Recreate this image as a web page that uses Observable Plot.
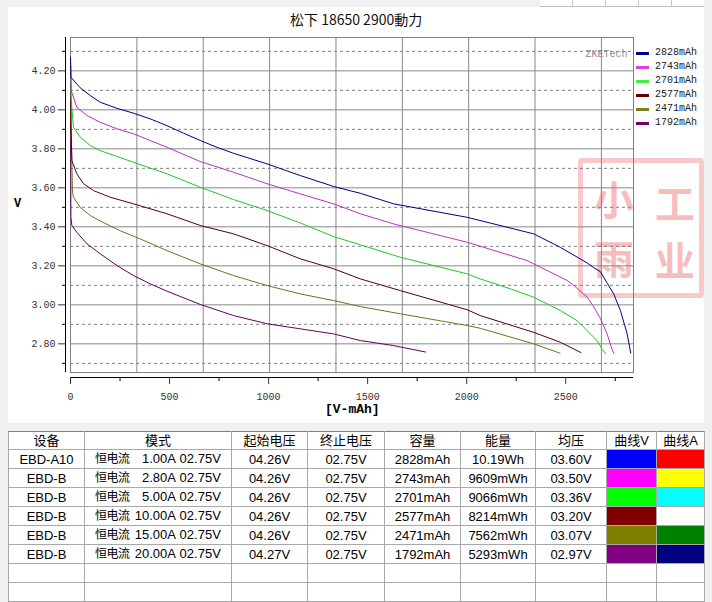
<!DOCTYPE html>
<html><head><meta charset="utf-8">
<script src="https://cdn.jsdelivr.net/npm/d3@7"></script>
<script src="https://cdn.jsdelivr.net/npm/@observablehq/plot@0.6"></script>
<style>
html,body{margin:0;padding:0;}
body{background:#f0f0f0;width:712px;height:602px;overflow:hidden;position:relative;font-family:"Liberation Sans","Noto Sans CJK SC",sans-serif;}
#strip{position:absolute;left:540px;top:0;width:164px;height:6px;background:repeating-linear-gradient(to right,#fff 0 32px,#c8c8c8 32px 33px);border-bottom:1px solid #c0c0c0;}
#panel{position:absolute;left:8px;top:7px;width:696px;height:416px;background:#fff;}
#seal{position:absolute;left:578px;top:158px;width:116px;height:130px;border:5px solid rgba(236,90,90,0.33);border-radius:4px;}
#seal span{position:absolute;display:block;width:44px;height:35px;text-align:center;font-family:"Noto Sans CJK SC";font-weight:bold;font-size:35px;line-height:35px;color:rgba(236,80,80,0.38);transform:scale(1.15);}
#chart{position:absolute;left:0;top:0;}
#title{position:absolute;left:290px;top:10px;font-family:"Noto Sans CJK SC";font-size:14px;line-height:18px;color:#111;white-space:pre;}
#vlab{position:absolute;left:14px;top:197px;font-family:"Liberation Mono";font-weight:bold;font-size:12px;color:#000;}
#xlab{position:absolute;left:325px;top:402px;font-family:"Liberation Mono";font-weight:bold;font-size:13px;color:#000;white-space:pre;}
#legend{position:absolute;left:636px;top:46px;}
.li{position:absolute;left:0;height:14px;width:70px;}
.li i{position:absolute;left:0;top:6px;width:13px;height:3px;}
.li b{position:absolute;left:19px;top:0;font-family:"Liberation Mono";font-weight:normal;font-size:10px;line-height:14px;color:#222;}
#tbl{position:absolute;left:8px;top:431px;width:696px;border-collapse:collapse;table-layout:fixed;font-size:13px;color:#000;background:#fff;}
#tbl th,#tbl td{border:1px solid #a8a8a8;padding:0;text-align:center;font-weight:normal;white-space:pre;overflow:hidden;line-height:17px;}
#tbl thead tr{height:18px;}
#tbl tbody tr{height:19px;}
#tbl thead th{border-top:1px solid #808080;}
#tbl td.mode{text-align:left;padding-left:10px;}
#tbl td.mode span.zh{display:inline-block;width:34px;font-size:12px;letter-spacing:-0.5px;}
#tbl td.mode span.cur{display:inline-block;width:47px;text-align:right;}
</style></head>
<body>
<div id="strip"></div>
<div id="panel"></div>
<div id="seal"><span style="left:9px;top:17px">小</span><span style="left:70px;top:21px">工</span><span style="left:9px;top:76px">雨</span><span style="left:70px;top:78px">业</span></div>
<div id="chart"></div>
<div id="title">松下 18650 2900動力</div>
<div id="vlab">V</div>
<div id="xlab">[V-mAh]</div>
<div id="legend"></div>
<table id="tbl"></table>
<script>
// ---- chart data ----
const seriesNames = ["2828mAh","2743mAh","2701mAh","2577mAh","2471mAh","1792mAh"];
const cap1  = [0, 2, 49, 100, 150, 234, 318, 402, 487, 571, 655, 739, 823, 992, 1160, 1328, 1463, 1631, 2002, 2338, 2473, 2574, 2608, 2642, 2675, 2710, 2742, 2776, 2810, 2828];
const volt1 = [4.27, 4.167, 4.113, 4.073, 4.039, 4.008, 3.983, 3.954, 3.919, 3.880, 3.843, 3.808, 3.777, 3.723, 3.663, 3.607, 3.572, 3.518, 3.449, 3.364, 3.295, 3.235, 3.215, 3.19, 3.17, 3.11, 3.056, 2.971, 2.851, 2.752];
const cap2  = [0, 3, 32, 83, 150, 234, 318, 402, 487, 655, 823, 992, 1160, 1328, 1463, 1631, 2002, 2305, 2406, 2507, 2540, 2608, 2641, 2675, 2709, 2734, 2743];
const volt2 = [4.26, 4.10, 4.013, 3.971, 3.936, 3.903, 3.877, 3.843, 3.808, 3.735, 3.680, 3.621, 3.569, 3.518, 3.467, 3.415, 3.321, 3.227, 3.176, 3.125, 3.10, 3.04, 2.99, 2.93, 2.851, 2.77, 2.75];
const cap3  = [0, 2, 15, 49, 100, 150, 234, 318, 487, 655, 823, 992, 1160, 1328, 1463, 1665, 2002, 2068, 2221, 2338, 2423, 2473, 2557, 2574, 2641, 2658, 2685, 2701];
const volt3 = [4.26, 4.07, 3.911, 3.860, 3.817, 3.791, 3.761, 3.731, 3.672, 3.603, 3.540, 3.484, 3.42, 3.35, 3.308, 3.244, 3.159, 3.133, 3.082, 3.039, 2.996, 2.971, 2.919, 2.903, 2.834, 2.817, 2.77, 2.75];
const cap4  = [0, 2, 7, 32, 66, 116, 200, 318, 487, 655, 823, 992, 1160, 1328, 1463, 1665, 2002, 2068, 2338, 2473, 2577];
const volt4 = [4.26, 3.93, 3.74, 3.672, 3.621, 3.586, 3.552, 3.518, 3.467, 3.407, 3.364, 3.304, 3.236, 3.185, 3.133, 3.073, 2.975, 2.945, 2.859, 2.808, 2.755];
const cap5  = [0, 2, 10, 15, 49, 100, 150, 251, 352, 487, 655, 823, 992, 1160, 1328, 1463, 1665, 2002, 2068, 2338, 2471];
const volt5 = [4.26, 3.96, 3.578, 3.552, 3.50, 3.458, 3.43, 3.38, 3.338, 3.278, 3.210, 3.150, 3.099, 3.056, 3.022, 2.991, 2.954, 2.894, 2.88, 2.80, 2.752];
const cap6  = [0, 2, 7, 32, 83, 150, 234, 318, 402, 487, 655, 823, 992, 1160, 1328, 1463, 1631, 1792];
const volt6 = [4.27, 3.45, 3.407, 3.372, 3.313, 3.262, 3.202, 3.150, 3.108, 3.070, 3.002, 2.945, 2.903, 2.877, 2.851, 2.817, 2.791, 2.758];

// axis ticks
const yMajor = [2.8, 3.0, 3.2, 3.4, 3.6, 3.8, 4.0, 4.2];
const yMinor = [2.7, 2.9, 3.1, 3.3, 3.5, 3.7, 3.9, 4.1, 4.3];
const xMajor = [0, 500, 1000, 1500, 2000, 2500];
const xMinor = [250, 750, 1250, 1750, 2250, 2750];
const xGrid  = [335, 670, 1005, 1340, 1675, 2010, 2345, 2680];
const xDomain = [0, 2842];
const yDomain = [2.653, 4.371];

// table data
const devices  = ["EBD-A10","EBD-B","EBD-B","EBD-B","EBD-B","EBD-B"];
const modeName = "恒电流";
const currents = ["1.00A","2.80A","5.00A","10.00A","15.00A","20.00A"];
const startV   = ["04.26V","04.26V","04.26V","04.26V","04.26V","04.27V"];
const endV     = ["02.75V","02.75V","02.75V","02.75V","02.75V","02.75V"];
const capacity = ["2828mAh","2743mAh","2701mAh","2577mAh","2471mAh","1792mAh"];
const energy   = ["10.19Wh","9609mWh","9066mWh","8214mWh","7562mWh","5293mWh"];
const avgV     = ["03.60V","03.50V","03.36V","03.20V","03.07V","02.97V"];
const headers  = ["设备","模式","起始电压","终止电压","容量","能量","均压","曲线V","曲线A"];

// styles
const lineColors   = ["#000080","#c030c0","#20c820","#500010","#707020","#600060"];
const legendColors = ["#000090","#e040e0","#40f040","#600000","#808020","#700070"];
const curveVColors = ["#0000ff","#ff00ff","#00ff00","#800000","#808000","#800080"];
const curveAColors = ["#ff0000","#ffff00","#00ffff","#ffffff","#008000","#000080"];
const colWidths = [76,147,76,77,76,75,71,50,48];

const caps = [cap1,cap2,cap3,cap4,cap5,cap6];
const volts = [volt1,volt2,volt3,volt4,volt5,volt6];
const rows = seriesNames.flatMap((name,i)=>caps[i].map((c,j)=>({series:name, mAh:c, V:volts[i][j]})));

const mono = "Liberation Mono, DejaVu Sans Mono, monospace";
const plot = Plot.plot({
  width: 712, height: 430,
  marginLeft: 70, marginRight: 79, marginTop: 37, marginBottom: 58,
  x: {domain: xDomain},
  y: {domain: yDomain},
  style: {background: "transparent", overflow: "visible"},
  marks: [
    Plot.ruleY(yMinor, {stroke: "#808080", strokeDasharray: "3,3"}),
    Plot.ruleY(yMajor, {stroke: "#888888"}),
    Plot.ruleX(xGrid, {stroke: "#888888"}),
    Plot.frame({stroke: "#808080"}),
    Plot.text(["ZKETech"], {frameAnchor: "top-right", text: d => d, dx: -6, dy: 12, textAnchor: "end", fill: "#8a8a8a", fontFamily: mono, fontSize: 10}),
    ...seriesNames.map((name,i)=>Plot.line(rows.filter(d=>d.series===name), {x: "mAh", y: "V", stroke: lineColors[i], strokeWidth: 1})).reverse(),
    Plot.ruleX([xDomain[0]], {dx: -5, stroke: "#000"}),
    Plot.ruleY([yDomain[0]], {dy: 5, stroke: "#000"}),
    Plot.axisY({ticks: yMajor, tickSize: 7, tickPadding: 3, dx: -5, tickFormat: d3.format(".2f"), fontFamily: mono, fontSize: 10, color: "#333", label: null}),
    Plot.axisY({ticks: yMinor, tickSize: 3, dx: -5, tickFormat: () => "", label: null, color: "#000"}),
    Plot.axisX({ticks: xMajor, tickSize: 7, tickPadding: 8, dy: 5, tickFormat: d => String(d), fontFamily: mono, fontSize: 10, color: "#333", label: null}),
    Plot.axisX({ticks: xMinor, tickSize: 4, dy: 5, tickFormat: () => "", label: null, color: "#000"})
  ]
});
document.getElementById("chart").appendChild(plot);

// legend
const leg = document.getElementById("legend");
seriesNames.forEach((n,i)=>{
  const d = document.createElement("div");
  d.className = "li"; d.style.top = (i*14) + "px";
  d.innerHTML = `<i style="background:${legendColors[i]}"></i><b>${n}</b>`;
  leg.appendChild(d);
});

// table
const tbl = document.getElementById("tbl");
let html = "<colgroup>" + colWidths.map(w=>`<col style="width:${w}px">`).join("") + "</colgroup>";
html += "<thead><tr>" + headers.map(h=>`<th>${h}</th>`).join("") + "</tr></thead><tbody>";
devices.forEach((dv,i)=>{
  html += `<tr><td>${dv}</td><td class="mode"><span class="zh">${modeName}</span><span class="cur">${currents[i]}</span> ${endV[i]}</td><td>${startV[i]}</td><td>${endV[i]}</td><td>${capacity[i]}</td><td>${energy[i]}</td><td>${avgV[i]}</td><td style="background:${curveVColors[i]}"></td><td style="background:${curveAColors[i]}"></td></tr>`;
});
for (let k=0;k<2;k++) html += "<tr>" + headers.map(()=>"<td></td>").join("") + "</tr>";
html += "</tbody>";
tbl.innerHTML = html;
</script>
</body></html>
